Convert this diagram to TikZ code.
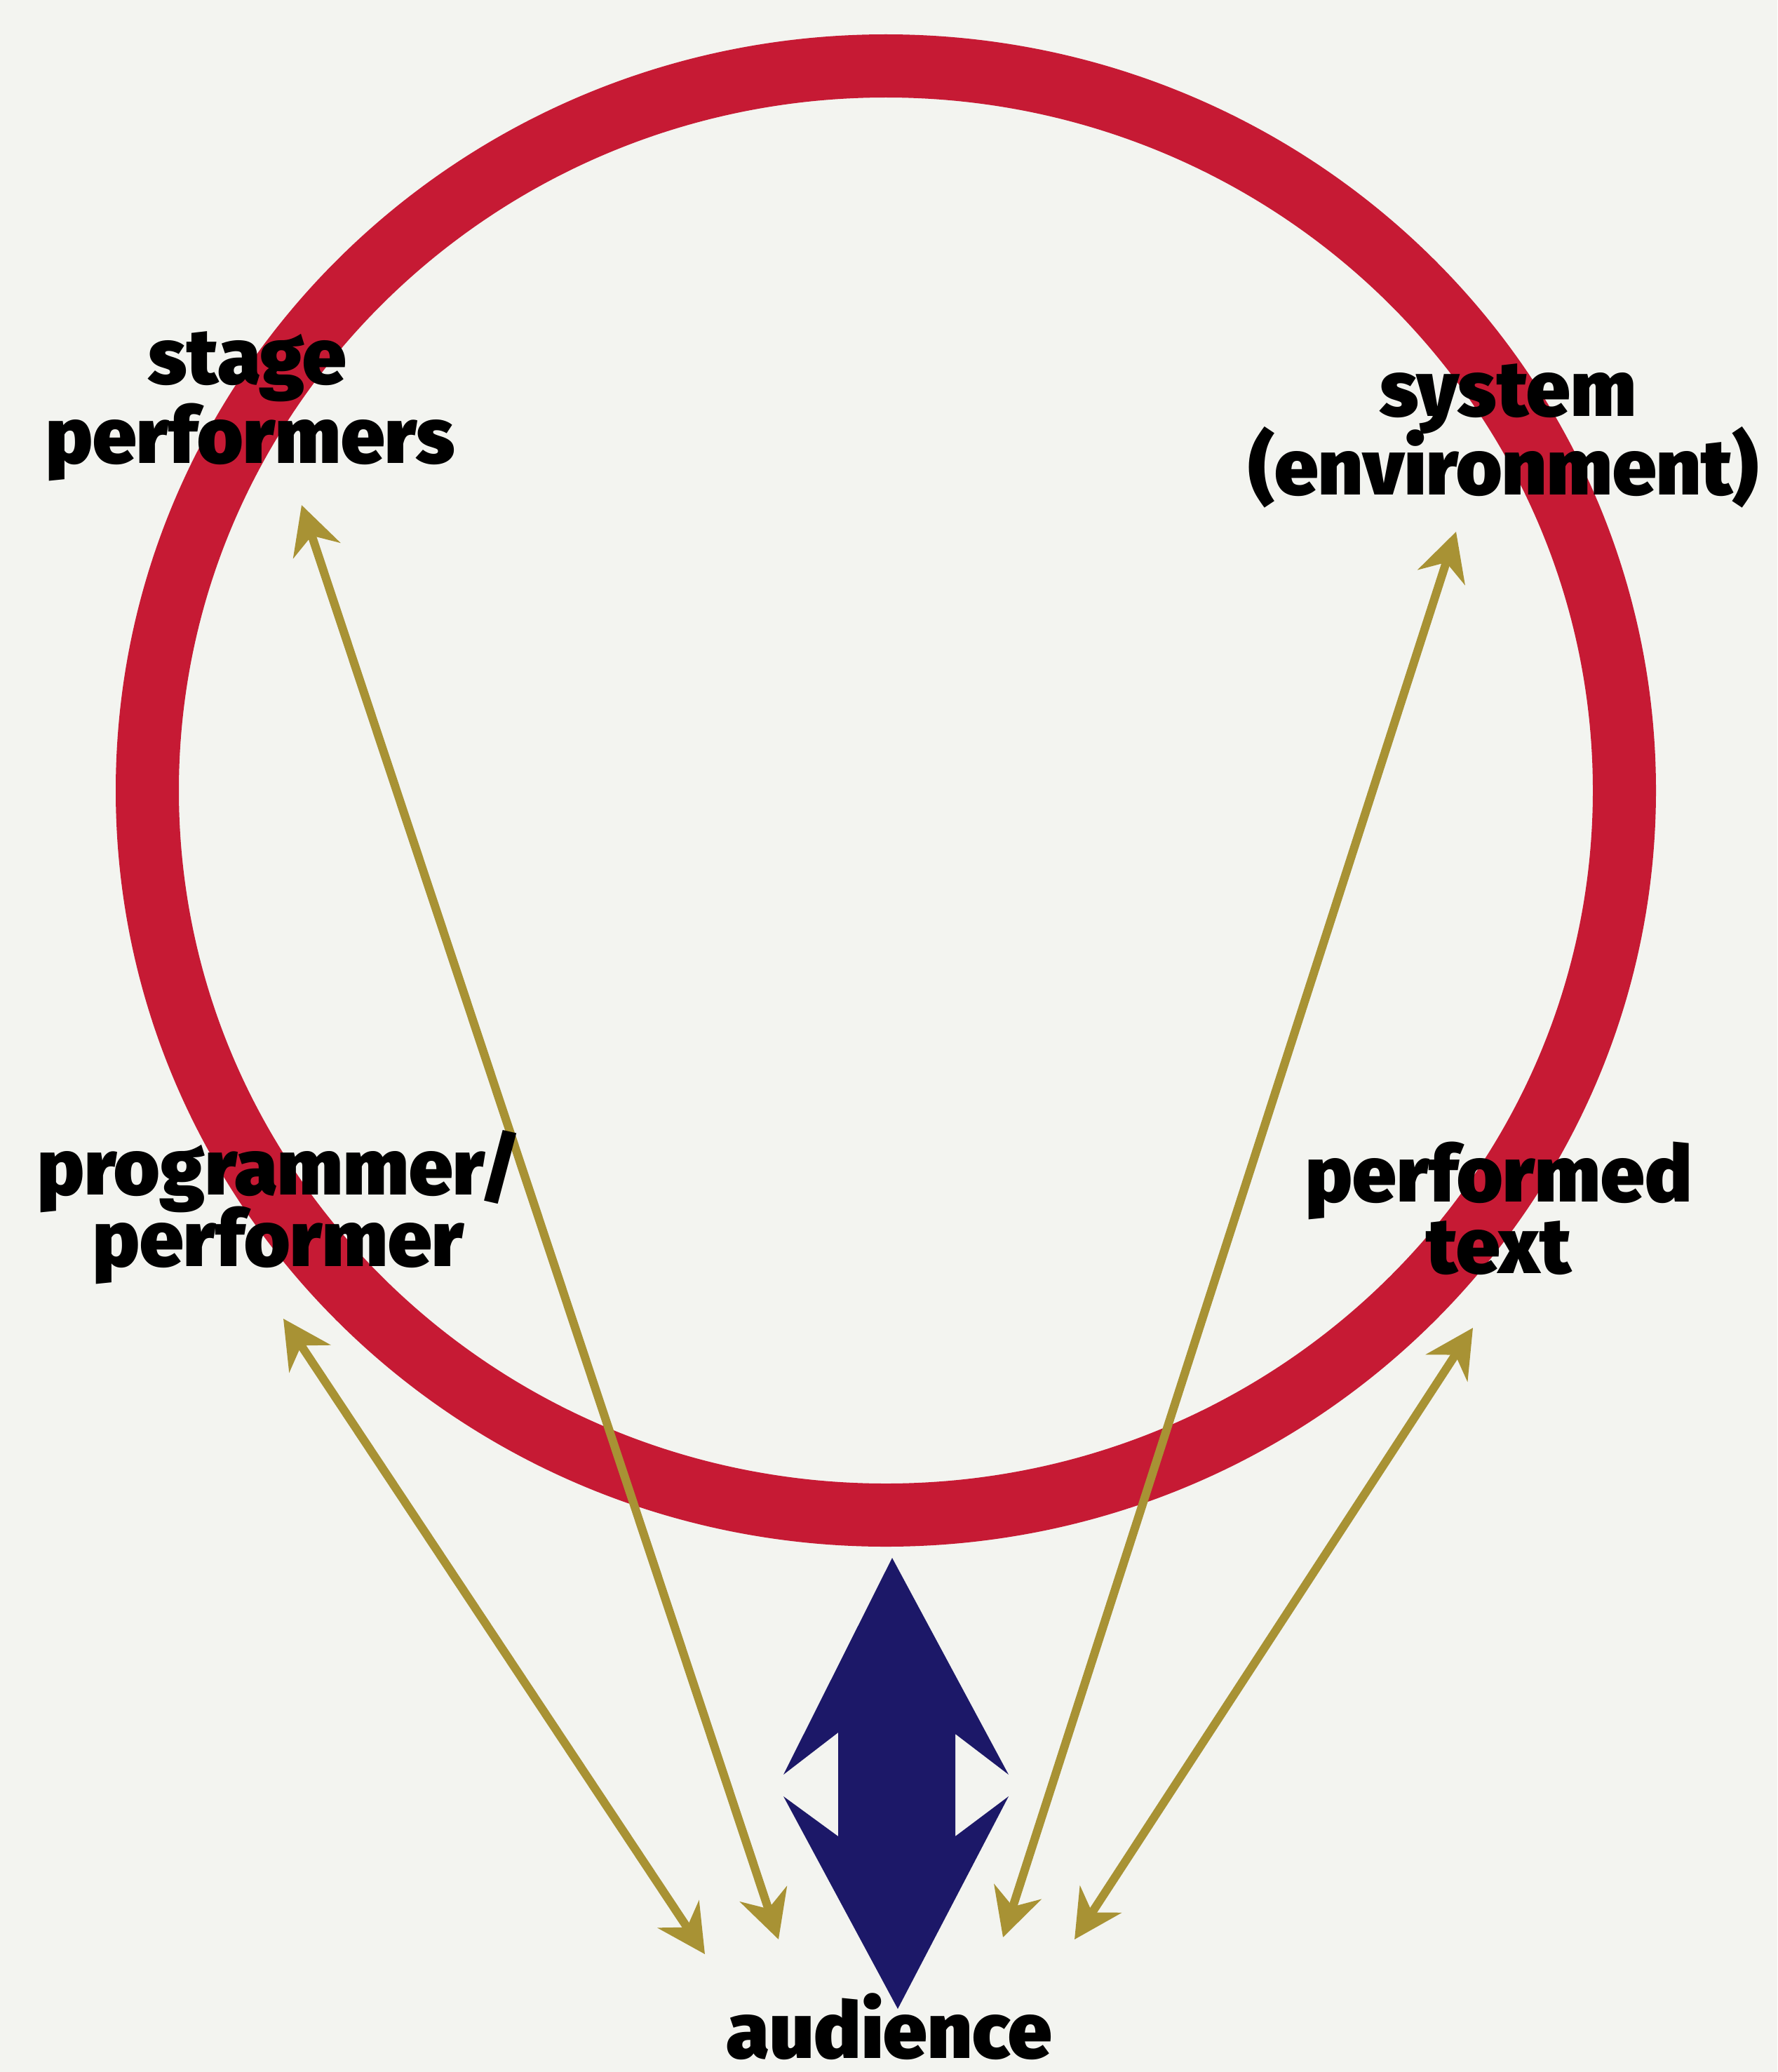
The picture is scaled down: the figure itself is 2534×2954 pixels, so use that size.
\documentclass[tikz,border=0pt]{standalone}
\usepackage{fontspec}
\usetikzlibrary{arrows.meta}
\IfFontExistsTF{Fira Sans Heavy}{\newfontfamily\lblfont{Fira Sans Heavy}}{%
 \IfFontExistsTF{Fira Sans Black}{\newfontfamily\lblfont{Fira Sans Black}}{%
  \IfFontExistsTF{Fira Sans ExtraBold}{\newfontfamily\lblfont{Fira Sans ExtraBold}}{%
   \newfontfamily\lblfont{Liberation Sans}[UprightFont=* Bold, FakeBold=2.2]}}}
\definecolor{bgcol}{RGB}{243,244,240}
\definecolor{ringred}{RGB}{198,26,52}
\definecolor{linkolive}{RGB}{168,146,52}
\definecolor{navyblue}{RGB}{28,24,104}
\begin{document}
\begin{tikzpicture}[x=1pt,y=-1pt,
  ring/.style={draw=ringred, line width=90pt},
  link/.style={draw=linkolive, line width=12pt,
    {Stealth[length=68pt,width=70pt,inset=22pt]}-{Stealth[length=68pt,width=70pt,inset=22pt]}},
  lbl/.style={font=\lblfont\fontsize{112}{112}\selectfont, text=black, inner sep=0pt, anchor=base},
  bigarrow/.style={fill=navyblue}]
\fill[bgcol] (0,0) rectangle (2534,2954);
\useasboundingbox (0,0) rectangle (2534,2954);
% ring
\draw[ring] (1263,1127) ellipse [x radius=1053pt, y radius=1033pt];
% arrow end points
\coordinate (spTop) at (430,720);
\coordinate (spBot) at (1110,2765);
\coordinate (ppTop) at (404,1880);
\coordinate (ppBot) at (1005,2786);
\coordinate (seTop) at (2076,758);
\coordinate (seBot) at (1430,2762);
\coordinate (ptTop) at (2100,1893);
\coordinate (ptBot) at (1532,2765);
\draw[link] (spBot) -- (spTop);
\draw[link] (ppBot) -- (ppTop);
\draw[link] (seBot) -- (seTop);
\draw[link] (ptBot) -- (ptTop);
% big double arrow
\fill[bigarrow] (1272,2221) -- (1438,2530) -- (1362,2472) -- (1362,2618) -- (1438,2561)
  -- (1280,2864) -- (1117,2561) -- (1195,2618) -- (1195,2470) -- (1117,2530) -- cycle;
% labels
\node[lbl] (stageA) at (353,547) {stage};
\node[lbl] (stageB) at (357,660) {performers};
\node[lbl] (sysA) at (2150,593) {system};
\node[lbl] (sysB) at (2144,705) {(environment)};
\node[lbl] (progA) at (398,1703) {programmer/};
\node[lbl] (progB) at (397,1805) {performer};
\node[lbl] (perfA) at (2137,1713) {performed};
\node[lbl] (perfB) at (2137,1815) {text};
\node[lbl] (aud) at (1268,2934) {audience};
\end{tikzpicture}
\end{document}
